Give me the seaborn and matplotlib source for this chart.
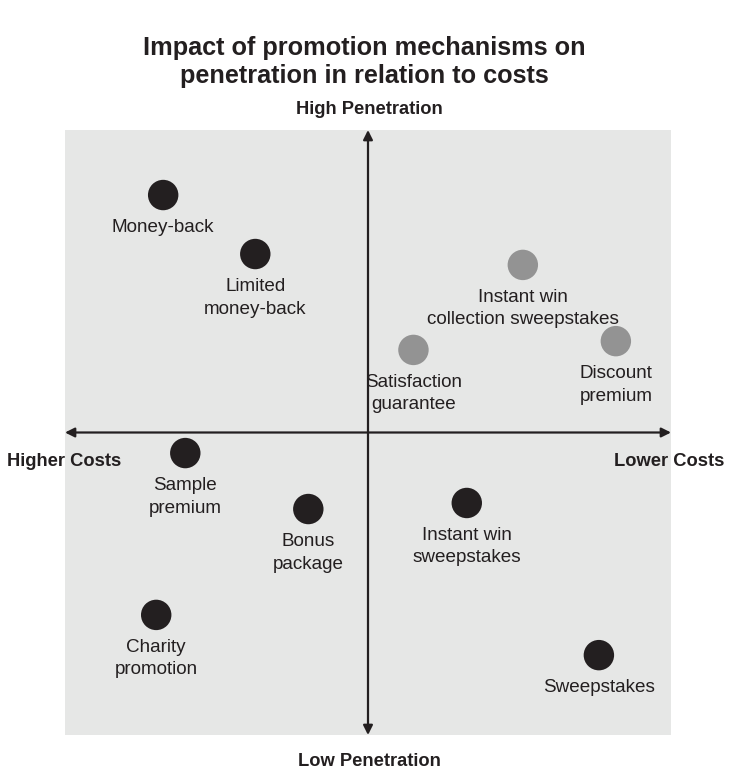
import matplotlib
matplotlib.use("Agg")
import matplotlib.pyplot as plt
import seaborn as sns
import pandas as pd

# promotion mechanisms, position on the cost (x) / penetration (y) map
mechanisms = ["Money-back", "Limited\nmoney-back", "Instant win\ncollection sweepstakes",
              "Discount\npremium", "Satisfaction\nguarantee", "Sample\npremium",
              "Bonus\npackage", "Instant win\nsweepstakes", "Charity\npromotion",
              "Sweepstakes"]
costs = [-6.76, -3.72, 5.11, 8.18, 1.50, -6.03, -1.97, 3.26, -6.99, 7.62]
penetration = [7.85, 5.90, 5.54, 3.02, 2.73, -0.68, -2.53, -2.33, -6.03, -7.36]
group = ["dark", "dark", "light", "light", "light", "dark", "dark", "dark", "dark", "dark"]

df = pd.DataFrame({"mechanism": mechanisms, "cost": costs,
                   "penetration": penetration, "group": group})

sns.set_style("white")
plt.rcParams["font.family"] = ["Liberation Sans", "DejaVu Sans"]

fig = plt.figure(figsize=(7.29, 7.72), dpi=100)
ax = fig.add_axes([65 / 729, 1 - 735 / 772, 606 / 729, 605 / 772])
ax.set_facecolor("#e6e7e6")

sns.scatterplot(data=df, x="cost", y="penetration", hue="group",
                palette={"dark": "#231f20", "light": "#939393"},
                s=480, edgecolor="none", legend=False, ax=ax, zorder=3)

for _, r in df.iterrows():
    ax.annotate(r["mechanism"], (r["cost"], r["penetration"]),
                xytext=(0, -17.5), textcoords="offset points",
                ha="center", va="top", fontsize=13.6, color="#231f20",
                linespacing=1.4)

ax.set_xlim(-10, 10)
ax.set_ylim(-10, 10)
arrow = dict(arrowstyle="<|-|>", color="#231f20", lw=1.6,
             mutation_scale=14, shrinkA=0, shrinkB=0)
ax.annotate("", xy=(-10, 0), xytext=(10, 0), arrowprops=arrow)
ax.annotate("", xy=(0, -10), xytext=(0, 10), arrowprops=arrow)

ax.set_xticks([])
ax.set_yticks([])
ax.set_xlabel("")
ax.set_ylabel("")
for sp in ax.spines.values():
    sp.set_visible(False)

fig.text(0.5, 1 - 62 / 772, "Impact of promotion mechanisms on\npenetration in relation to costs",
         ha="center", va="center", fontsize=18.2, fontweight="bold",
         color="#231f20", linespacing=1.25)
fig.text(369 / 729, 1 - 109 / 772, "High Penetration", ha="center", va="center",
         fontsize=13.2, fontweight="bold", color="#231f20")
fig.text(369 / 729, 1 - 762 / 772, "Low Penetration", ha="center", va="center",
         fontsize=13.2, fontweight="bold", color="#231f20")
fig.text(7 / 729, 1 - 462 / 772, "Higher Costs", ha="left", va="center",
         fontsize=13.2, fontweight="bold", color="#231f20")
fig.text(724 / 729, 1 - 462 / 772, "Lower Costs", ha="right", va="center",
         fontsize=13.2, fontweight="bold", color="#231f20")

fig.savefig("out.png", dpi=100)
